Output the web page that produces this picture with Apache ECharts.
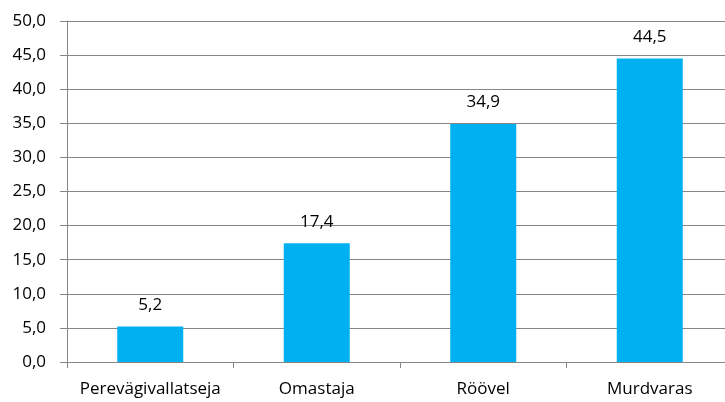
<!DOCTYPE html>
<html><head><meta charset="utf-8">
<script src="https://cdn.jsdelivr.net/npm/echarts@6/dist/echarts.min.js"></script>
<style>html,body{margin:0;padding:0;background:#fff;overflow:hidden;width:725px;height:402px}#c{width:733px;height:402px}</style>
</head><body><div id="c"></div>
<script>
const categories = ['Perevägivallatseja', 'Omastaja', 'Röövel', 'Murdvaras'];
const values = [5.2, 17.4, 34.9, 44.5];
const yMin = 0, yMax = 50, yStep = 5;
const fmt = v => Number(v).toFixed(1).replace('.', ',');
const font = 'Open Sans';
const chart = echarts.init(document.getElementById('c'), null, {renderer: 'canvas'});
chart.setOption({
  animation: false,
  grid: {left: 67, top: 21, right: 0, bottom: 40, containLabel: false},
  xAxis: {
    type: 'category', data: categories,
    axisLine: {lineStyle: {color: '#868686', width: 1}},
    axisTick: {show: true, alignWithLabel: false, length: 6, lineStyle: {color: '#868686'}},
    axisLabel: {color: '#000', fontFamily: font, fontSize: 17, margin: 19, interval: 0, hideOverlap: false}
  },
  yAxis: {
    type: 'value', min: yMin, max: yMax, interval: yStep,
    axisLine: {show: true, lineStyle: {color: '#868686', width: 1}},
    axisTick: {show: true, length: 7, lineStyle: {color: '#868686'}},
    splitLine: {lineStyle: {color: '#868686', width: 1}},
    axisLabel: {color: '#000', fontFamily: font, fontSize: 17, margin: 21, formatter: fmt}
  },
  series: [{
    type: 'bar', data: values, barWidth: 66,
    itemStyle: {color: '#00B0F0'},
    label: {show: true, position: 'top', distance: 13, color: '#000', fontFamily: font, fontSize: 17,
      formatter: p => fmt(p.value)}
  }]
});
</script></body></html>
